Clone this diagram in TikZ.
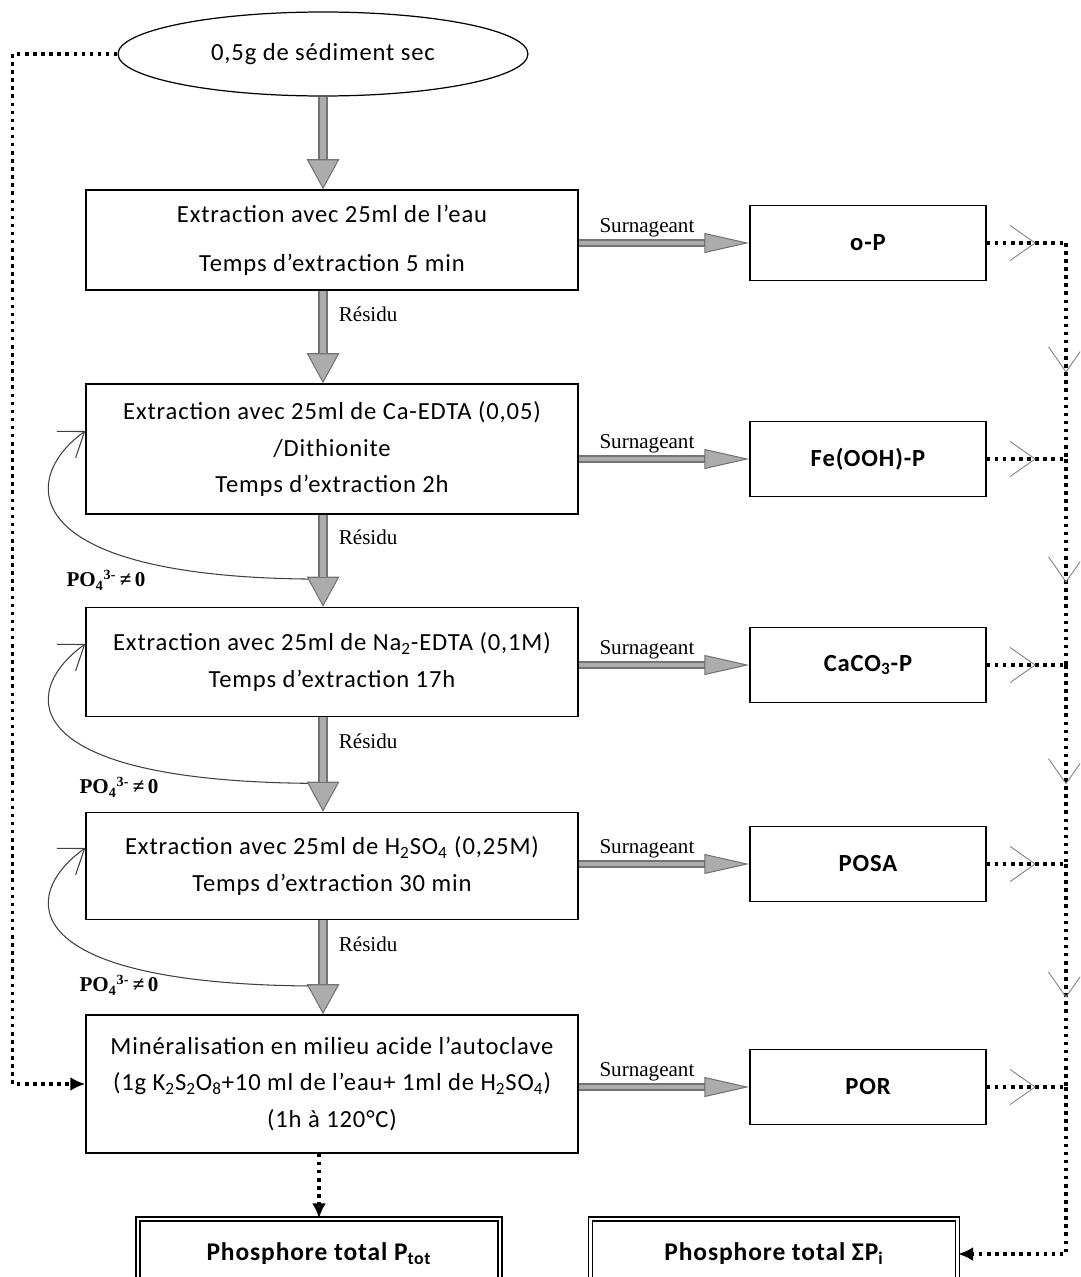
\documentclass[tikz,border=0pt]{standalone}
\usepackage{fontspec}
\setmainfont{Carlito}[LetterSpace=3.5]
\newfontfamily\notefont{Liberation Serif}
\usetikzlibrary{arrows.meta,positioning,shapes.geometric,calc}

\begin{document}
\begin{tikzpicture}[x=0.02cm, y=-0.02cm, every node/.style={font=\fontsize{14}{21}\selectfont},
  box/.style={draw, line width=0.9pt, minimum width=9.84cm, align=center, inner sep=2pt},
  res/.style={draw, line width=0.9pt, minimum width=4.72cm, minimum height=1.5cm, font=\fontsize{14}{16}\selectfont\bfseries},
  tot/.style={draw, double, double distance=1.6pt, line width=0.7pt, minimum height=1.4cm, font=\fontsize{14.5}{16}\selectfont\bfseries},
  note/.style={font=\fontsize{12}{14}\selectfont\notefont},
  vflow/.style={draw=black!55, line width=2mm, -{Triangle[length=6mm,width=6.5mm,fill=gray!65,color=black!55,line width=0.6pt]}, postaction={draw=gray!65, line width=1.2mm, shorten >=6mm, -}},
  hflow/.style={draw=black!55, line width=1.6mm, -{Triangle[length=9mm,width=4mm,fill=gray!65,color=black!55,line width=0.6pt]}, postaction={draw=gray!65, line width=0.9mm, shorten >=9mm, -}},
  dots/.style={line width=2pt, dash pattern=on 2pt off 2.6pt},
  endtip/.style={-{Latex[length=3mm,width=2.8mm]}},
  vee/.style={draw=gray, line width=0.5pt, -{Straight Barb[length=5mm,width=7mm]}},
  loopback/.style={draw=black!75, line width=0.6pt, -{Straight Barb[length=4.5mm,width=6.5mm,line width=0.6pt]}}]
\useasboundingbox (0,0) rectangle (1080,1277);
\clip (0,0) rectangle (1080,1277);
% sample and extraction chain
\node[draw, ellipse, line width=0.7pt, minimum width=8.2cm, minimum height=1.68cm] (src) at (323,54) {0,5g de sédiment sec};
\node[box, minimum height=2cm] (b1) at (332,240) {Extraction avec 25ml de l’eau\\[7pt]Temps d’extraction 5 min};
\node[box, minimum height=2.6cm] (b2) at (332,449) {Extraction avec 25ml de Ca-EDTA (0,05)\\/Dithionite\\Temps d’extraction 2h};
\node[box, minimum height=2.18cm] (b3) at (332,662) {Extraction avec 25ml de Na\textsubscript{2}-EDTA (0,1M)\\Temps d’extraction 17h};
\node[box, minimum height=2.14cm] (b4) at (332,866) {Extraction avec 25ml de H\textsubscript{2}SO\textsubscript{4} (0,25M)\\Temps d’extraction 30 min};
\node[box, minimum height=2.76cm] (b5) at (332,1084) {Minéralisation en milieu acide l’autoclave\\(1g K\textsubscript{2}S\textsubscript{2}O\textsubscript{8}+10 ml de l’eau+ 1ml de H\textsubscript{2}SO\textsubscript{4})\\(1h à 120°C)};
% fractions
\node[res] (oP) at (868,243) {o-P};
\node[res] (fe) at (868,459) {Fe(OOH)-P};
\node[res] (caco) at (868,665) {CaCO\textsubscript{3}-P};
\node[res] (posa) at (868,864) {POSA};
\node[res] (por) at (868,1087) {POR};
\node[tot, minimum width=7.24cm] (ptot) at (319,1254) {Phosphore total P\textsubscript{tot}};
\node[tot, minimum width=7.34cm] (sumP) at (774,1254) {Phosphore total ΣP\textsubscript{i}};
% PO4 loops back into the same step
\foreach \a/\b in {b2/b3, b3/b4, b4/b5}
  \draw[loopback] ($(\a.south -| src.south)!0.7!(\b.north -| src.south)$) .. controls +(-310,0) and +(-66,47) .. ([yshift=3.6mm]\a.west);
\node[note] (po1) at (106,580) {\bfseries PO\textsubscript{4}\textsuperscript{3-}\,≠\,0};
\node[note] (po2) at (119,787) {\bfseries PO\textsubscript{4}\textsuperscript{3-}\,≠\,0};
\node[note] (po3) at (119,985) {\bfseries PO\textsubscript{4}\textsuperscript{3-}\,≠\,0};
% residue flow
\draw[vflow] (src.south) -- (src.south |- b1.north);
\foreach \a/\b in {b1/b2, b2/b3, b3/b4, b4/b5}
  \draw[vflow] (src.south |- \a.south) -- node[pos=0.25, right, note, xshift=1mm] {Résidu} (src.south |- \b.north);
% supernatant flow
\foreach \a/\r in {b1/oP, b2/fe, b3/caco, b4/posa, b5/por}
  \draw[hflow] (\a.east |- \r.west) -- node[pos=0.4, above, note, inner sep=1pt] {Surnageant} (\r.west);
% dotted routes to the totals
\draw[dots, endtip] (src.west) -- ++(-105,0) |- (b5.west);
\draw[dots, endtip] (ptot.north |- b5.south) -- (ptot.north);
\coordinate (bus) at (1066,0);
\foreach \r/\j in {oP/j1, fe/j2, caco/j3, posa/j4, por/j5} {
  \coordinate (\j) at (\r.east -| bus);
  \draw[dots] (\r.east) -- (\j);
  \path ($(\r.east)!0.62!(\j)$) coordinate (m\j);
  \draw[vee] (m\j) ++(-2,0) -- (m\j);
}
\foreach \a/\b in {j1/j2, j2/j3, j3/j4, j4/j5} {
  \draw[dots] (\a) -- (\b);
  \path ($(\a)!0.6!(\b)$) coordinate (v\a);
  \draw[vee] (v\a) ++(0,-2) -- (v\a);
}
\draw[dots, endtip] (j5) |- (sumP.east);
\end{tikzpicture}
\end{document}
